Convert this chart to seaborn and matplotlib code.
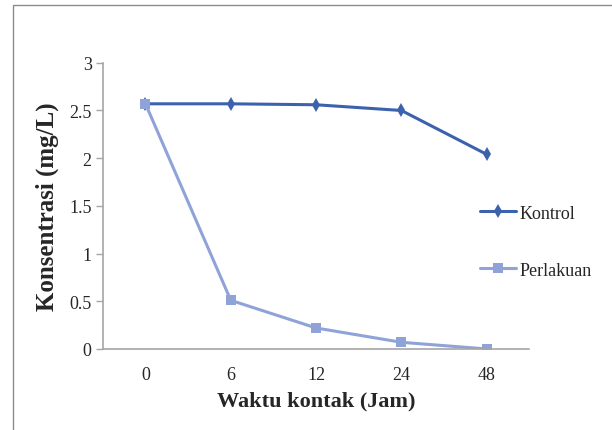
import pandas as pd
import seaborn as sns
import matplotlib.pyplot as plt

# data
waktu = ["0", "6", "12", "24", "48"]
kontrol = [2.57, 2.57, 2.56, 2.50, 2.04]
perlakuan = [2.57, 0.51, 0.22, 0.07, 0.00]

df = pd.DataFrame({
    "Waktu": waktu * 2,
    "Konsentrasi": kontrol + perlakuan,
    "Seri": ["Kontrol"] * len(waktu) + ["Perlakuan"] * len(waktu),
})

sns.set_style("white")
plt.rcParams["font.family"] = ["Liberation Serif", "DejaVu Serif"]

fig = plt.figure(figsize=(6.12, 4.31), dpi=100)
ax = fig.add_axes([0.168, 0.188, 0.697, 0.664])

# garis tepi area grafik (terpotong di kanan dan bawah)
fig.patches.append(plt.Rectangle((0.022, -0.2), 1.2, 1.186, transform=fig.transFigure,
                                 fill=False, edgecolor="#8c8c8c", linewidth=1.0))

sns.lineplot(data=df, x="Waktu", y="Konsentrasi", hue="Seri", style="Seri",
             palette={"Kontrol": "#3C62AE", "Perlakuan": "#8FA3D9"},
             markers={"Kontrol": "d", "Perlakuan": "s"}, dashes=False,
             linewidth=2.2, markersize=7.5, markeredgewidth=0, ax=ax, sort=False)

ax.set_xlim(-0.5, 4.5)
ax.set_ylim(0, 3)
ax.set_yticks([0, 0.5, 1, 1.5, 2, 2.5, 3])
ax.set_yticklabels(["0", "0.5", "1", "1.5", "2", "2.5", "3"])
ax.set_xlabel("Waktu kontak (Jam)", fontsize=16, fontweight="bold", labelpad=5)
ax.set_ylabel("Konsentrasi (mg/L)", fontsize=18, fontweight="bold", labelpad=7)
ax.tick_params(axis="y", which="both", left=True, length=5, width=1, color="#a6a6a6",
               labelsize=13, pad=3)
ax.tick_params(axis="x", bottom=False, labelsize=13, pad=9)

for s in ["top", "right"]:
    ax.spines[s].set_visible(False)
for s in ["left", "bottom"]:
    ax.spines[s].set_color("#a6a6a6")
    ax.spines[s].set_linewidth(1.2)

leg = ax.legend(loc="center left", bbox_to_anchor=(0.885, 0.375), frameon=False,
                fontsize=13, handlelength=1.95, handletextpad=0.2, labelspacing=2.2,
                borderpad=0, borderaxespad=0)

fig.savefig("out.png", dpi=100)
